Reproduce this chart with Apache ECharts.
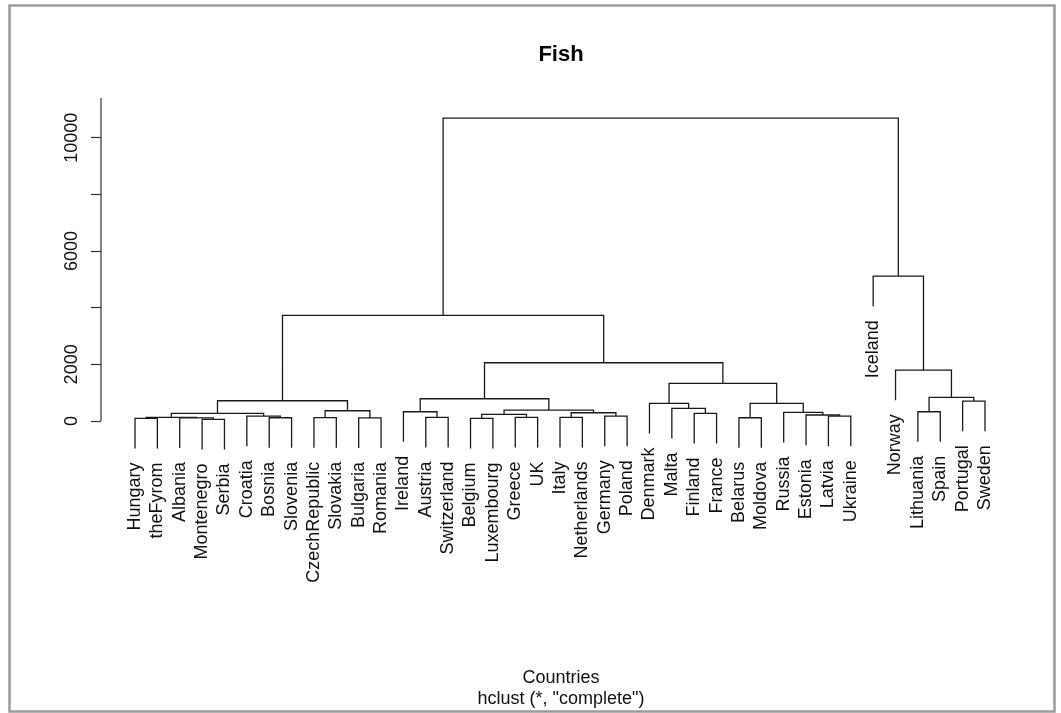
<!DOCTYPE html>
<html>
<head>
<meta charset="utf-8">
<script src="https://cdn.jsdelivr.net/npm/echarts@6/dist/echarts.min.js"></script>
<style>
  html, body { margin: 0; padding: 0; background: #fff; }
  #chart { width: 1061px; height: 713px; }
</style>
</head>
<body>
<div id="chart"></div>
<script>
// Leaf order of the dendrogram, left to right
const countries = [
  'Hungary', 'theFyrom', 'Albania', 'Montenegro', 'Serbia', 'Croatia', 'Bosnia',
  'Slovenia', 'CzechRepublic', 'Slovakia', 'Bulgaria', 'Romania', 'Ireland',
  'Austria', 'Switzerland', 'Belgium', 'Luxembourg', 'Greece', 'UK', 'Italy',
  'Netherlands', 'Germany', 'Poland', 'Denmark', 'Malta', 'Finland', 'France',
  'Belarus', 'Moldova', 'Russia', 'Estonia', 'Latvia', 'Ukraine', 'Iceland',
  'Norway', 'Lithuania', 'Spain', 'Portugal', 'Sweden'
];

// Merge steps: a string is a country, a number is an earlier step (1-based)
const mergeLeft = [
  'Montenegro', 'Hungary', 'Albania', 'Bosnia', 'CzechRepublic', 'Bulgaria', 2, 'Croatia', 7, 5, 9,
  'Austria', 'Ireland', 'Belgium', 'Greece', 14, 'Italy', 'Germany', 17, 16, 13,
  'Finland', 'Malta', 'Denmark', 'Belarus', 'Latvia', 'Estonia', 'Russia', 25, 24, 21, 11,
  'Lithuania', 'Portugal', 33, 'Norway', 'Iceland', 32
];
const mergeRight = [
  'Serbia', 'theFyrom', 1, 'Slovenia', 'Slovakia', 'Romania', 3, 4, 8, 6, 10,
  'Switzerland', 12, 'Luxembourg', 'UK', 15, 'Netherlands', 'Poland', 18, 19, 20,
  'France', 22, 23, 'Moldova', 'Ukraine', 26, 27, 28, 29, 30, 31,
  'Spain', 'Sweden', 34, 35, 36, 37
];
const mergeHeight = [
  60, 95, 113, 116, 120, 110, 130, 176, 272, 363, 716,
  130, 328, 95, 130, 236, 130, 176, 293, 388, 786,
  272, 448, 624, 116, 176, 212, 307, 624, 1330, 2056, 3728,
  328, 705, 836, 1799, 5114, 10687
];

// Y axis tick values and the ones that carry a label
const yTicks = [0, 2000, 4000, 6000, 8000, 10000];
const yLabels = [0, 2000, 6000, 10000];

const HANG = 0.1 * (Math.max(...mergeHeight) - Math.min(...mergeHeight));
const X_MIN = 1 - 0.04 * (countries.length - 1);
const X_MAX = countries.length + 0.04 * (countries.length - 1);
const Y_MIN = -2000;
const Y_MAX = 11400;

// Build the bracket for every merge and the hanging leaf ends
const nodeX = [];
const brackets = [];
const leaves = [];
function childInfo(ref, h) {
  if (typeof ref === 'string') {
    const x = countries.indexOf(ref) + 1;
    leaves.push([x, h - HANG]);
    return [x, h - HANG];
  }
  return [nodeX[ref - 1], mergeHeight[ref - 1]];
}
for (let i = 0; i < mergeHeight.length; i++) {
  const h = mergeHeight[i];
  const l = childInfo(mergeLeft[i], h);
  const r = childInfo(mergeRight[i], h);
  nodeX[i] = (l[0] + r[0]) / 2;
  brackets.push([l[0], l[1], r[0], r[1], h]);
}
leaves.sort((a, b) => a[0] - b[0]);

const FONT = '"Liberation Sans", Arial, Helvetica, sans-serif';
const LINE = '#1a1a1a';

const chart = echarts.init(document.getElementById('chart'), null, { renderer: 'canvas' });
chart.setOption({
  backgroundColor: '#ffffff',
  animation: false,
  grid: { left: 101, right: 42, top: 98, bottom: 235.3 },
  xAxis: {
    type: 'value', min: X_MIN, max: X_MAX,
    axisLine: { show: false, onZero: false }, axisTick: { show: false },
    axisLabel: { show: false }, splitLine: { show: false }
  },
  yAxis: {
    type: 'value', min: Y_MIN, max: Y_MAX,
    axisLine: { show: false, onZero: false },
    axisTick: { show: true, inside: false, length: 10, customValues: yTicks, lineStyle: { color: '#333', width: 1.2 } },
    axisLabel: {
      show: true, customValues: yLabels, rotate: 90, margin: 20,
      fontSize: 18, fontFamily: FONT, color: '#111',
      formatter: function (v) { return String(v); }
    },
    splitLine: { show: false }
  },
  graphic: [
    {
      type: 'rect', silent: true,
      shape: { x: 9.5, y: 5.5, width: 1045, height: 706 },
      style: { fill: 'none', stroke: '#9a9a9a', lineWidth: 2.5 }
    },
    {
      type: 'text', x: 561, y: 55,
      style: { text: 'Fish', font: 'bold 22px ' + FONT, fill: '#000', align: 'center', verticalAlign: 'middle' }
    },
    {
      type: 'text', x: 561, y: 678,
      style: { text: 'Countries', font: '18px ' + FONT, fill: '#111', align: 'center', verticalAlign: 'middle' }
    },
    {
      type: 'text', x: 561, y: 699,
      style: { text: 'hclust (*, "complete")', font: '18px ' + FONT, fill: '#111', align: 'center', verticalAlign: 'middle' }
    }
  ],
  series: [
    {
      // vertical axis line from 0 to the top of the plot
      type: 'custom', silent: true, clip: false,
      data: [[X_MIN, 0, Y_MAX]],
      renderItem: function (params, api) {
        const a = api.coord([api.value(0), api.value(1)]);
        const b = api.coord([api.value(0), api.value(2)]);
        return { type: 'line', shape: { x1: a[0], y1: a[1], x2: b[0], y2: b[1] }, style: { stroke: '#333', lineWidth: 1.2 } };
      }
    },
    {
      // one bracket per merge
      type: 'custom', silent: true, clip: false,
      data: brackets,
      renderItem: function (params, api) {
        const xl = api.value(0), yl = api.value(1), xr = api.value(2), yr = api.value(3), h = api.value(4);
        const pts = [api.coord([xl, yl]), api.coord([xl, h]), api.coord([xr, h]), api.coord([xr, yr])];
        return { type: 'polyline', shape: { points: pts }, style: { stroke: LINE, lineWidth: 1.3, fill: null } };
      }
    },
    {
      // leaf labels hanging below each leaf
      type: 'custom', silent: true, clip: false,
      data: leaves,
      renderItem: function (params, api) {
        const p = api.coord([api.value(0), api.value(1)]);
        const name = countries[Math.round(api.value(0)) - 1];
        return {
          type: 'text', x: p[0], y: p[1] + 14, rotation: Math.PI / 2,
          style: { text: name, font: '18px ' + FONT, fill: '#111', align: 'right', verticalAlign: 'middle' }
        };
      }
    }
  ]
});
</script>
</body>
</html>
